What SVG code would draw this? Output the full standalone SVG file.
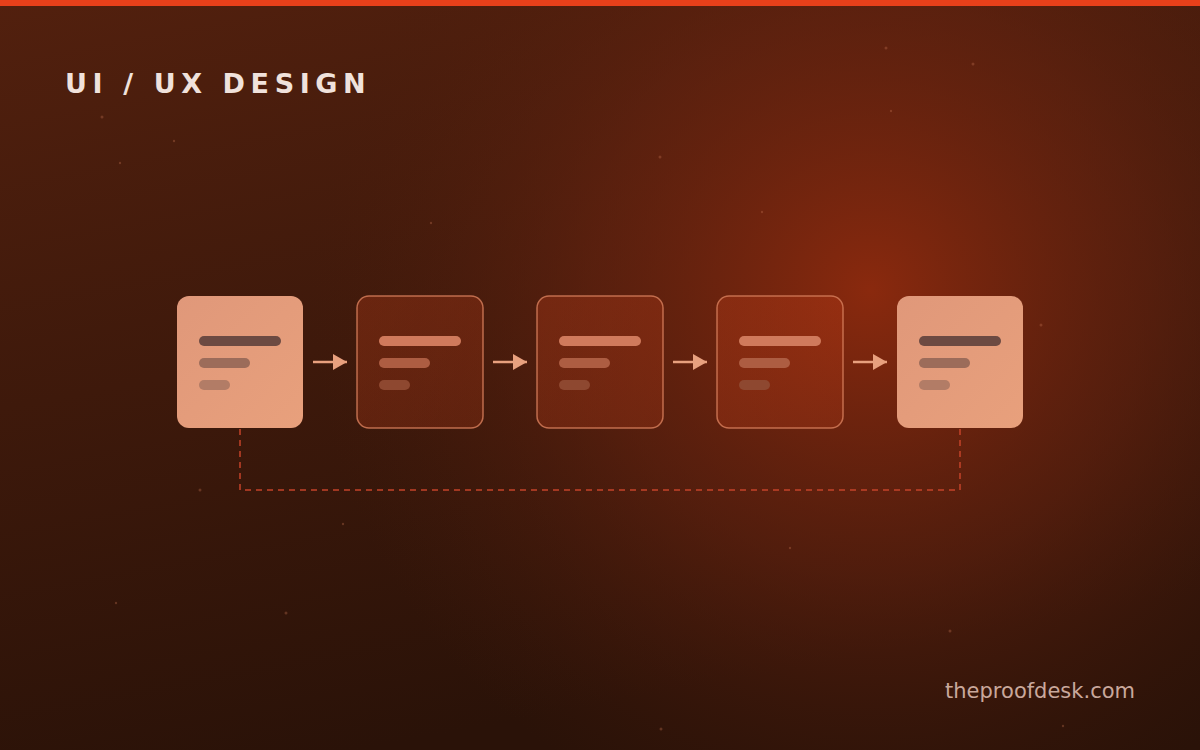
<svg xmlns="http://www.w3.org/2000/svg" width="1200" height="750" viewBox="0 0 1200 750">
<defs>
<linearGradient id="bg" x1="0" y1="0" x2="0.3" y2="1">
<stop offset="0" stop-color="#52200e"/>
<stop offset="1" stop-color="#2a1208"/>
</linearGradient>
<radialGradient id="glow" cx="870" cy="290" r="560" gradientUnits="userSpaceOnUse">
<stop offset="0" stop-color="#8e2a0e" stop-opacity="0.95"/>
<stop offset="0.5" stop-color="#6c2410" stop-opacity="0.55"/>
<stop offset="1" stop-color="#4a1c0c" stop-opacity="0"/>
</radialGradient>
<linearGradient id="dark" x1="0" y1="0" x2="1" y2="1">
<stop offset="0" stop-color="#c8401a" stop-opacity="0.3"/>
<stop offset="1" stop-color="#c8401a" stop-opacity="0.22"/>
</linearGradient>
<linearGradient id="lt" x1="0" y1="0" x2="1" y2="1">
<stop offset="0" stop-color="#e0987a"/>
<stop offset="1" stop-color="#e8a07c"/>
</linearGradient>
<marker id="ah" markerWidth="14" markerHeight="16" refX="14" refY="8" orient="auto" markerUnits="userSpaceOnUse">
<path d="M0,0 L14,8 L0,16 Z" fill="#e8a07e"/>
</marker>
<style>
.light{fill:url(#lt);}
.dk{fill:url(#dark);stroke:#d27a58;stroke-opacity:0.85;stroke-width:1.5;}
.lb1{fill:#6c4a42;}.lb2{fill:#9c6c5a;}.lb3{fill:#b27c66;}
.db1{fill:#d07a5c;}.db2{fill:#ad5d42;}.db3{fill:#8e4830;}
.arr{stroke:#e8a07e;stroke-width:2.5;fill:none;}
.dash{stroke:#c4432a;stroke-width:1.5;fill:none;stroke-dasharray:6 5;}
.dot{fill:#c07050;opacity:0.35;}
</style>
</defs>
<rect width="1200" height="750" fill="url(#bg)"/>
<rect width="1200" height="750" fill="url(#glow)"/>
<rect width="1200" height="6" fill="#e8401a"/>
<g id="particles">
<circle class="dot" cx="102" cy="117" r="1.5"/><circle class="dot" cx="174" cy="141" r="1.2"/>
<circle class="dot" cx="886" cy="48" r="1.5"/><circle class="dot" cx="973" cy="64" r="1.5"/>
<circle class="dot" cx="660" cy="157" r="1.5"/><circle class="dot" cx="891" cy="111" r="1.2"/>
<circle class="dot" cx="762" cy="212" r="1.2"/><circle class="dot" cx="431" cy="223" r="1.2"/>
<circle class="dot" cx="1041" cy="325" r="1.5"/><circle class="dot" cx="200" cy="490" r="1.5"/>
<circle class="dot" cx="286" cy="613" r="1.5"/><circle class="dot" cx="116" cy="603" r="1.2"/>
<circle class="dot" cx="950" cy="631" r="1.5"/><circle class="dot" cx="661" cy="729" r="1.5"/>
<circle class="dot" cx="790" cy="548" r="1.2"/><circle class="dot" cx="343" cy="524" r="1.2"/>
<circle class="dot" cx="120" cy="163" r="1.2"/><circle class="dot" cx="1063" cy="726" r="1.2"/>
</g>
<text x="65" y="93" font-family="DejaVu Sans, sans-serif" font-weight="bold" font-size="27" letter-spacing="5.6" fill="#f0e2dc">UI / UX DESIGN</text>
<g id="connectors">
<line class="arr" x1="313" y1="362" x2="347" y2="362" marker-end="url(#ah)"/>
<line class="arr" x1="493" y1="362" x2="527" y2="362" marker-end="url(#ah)"/>
<line class="arr" x1="673" y1="362" x2="707" y2="362" marker-end="url(#ah)"/>
<line class="arr" x1="853" y1="362" x2="887" y2="362" marker-end="url(#ah)"/>
<path class="dash" d="M240,429 V490 H960 V429"/>
</g>
<g id="node1">
<rect class="light" x="177" y="296" width="126" height="132" rx="12"/>
<rect class="lb1" x="199" y="336" width="82" height="10" rx="5"/>
<rect class="lb2" x="199" y="358" width="51" height="10" rx="5"/>
<rect class="lb3" x="199" y="380" width="31" height="10" rx="5"/>
</g>
<g id="node2">
<rect class="dk" x="357" y="296" width="126" height="132" rx="12"/>
<rect class="db1" x="379" y="336" width="82" height="10" rx="5"/>
<rect class="db2" x="379" y="358" width="51" height="10" rx="5"/>
<rect class="db3" x="379" y="380" width="31" height="10" rx="5"/>
</g>
<g id="node3">
<rect class="dk" x="537" y="296" width="126" height="132" rx="12"/>
<rect class="db1" x="559" y="336" width="82" height="10" rx="5"/>
<rect class="db2" x="559" y="358" width="51" height="10" rx="5"/>
<rect class="db3" x="559" y="380" width="31" height="10" rx="5"/>
</g>
<g id="node4">
<rect class="dk" x="717" y="296" width="126" height="132" rx="12"/>
<rect class="db1" x="739" y="336" width="82" height="10" rx="5"/>
<rect class="db2" x="739" y="358" width="51" height="10" rx="5"/>
<rect class="db3" x="739" y="380" width="31" height="10" rx="5"/>
</g>
<g id="node5">
<rect class="light" x="897" y="296" width="126" height="132" rx="12"/>
<rect class="lb1" x="919" y="336" width="82" height="10" rx="5"/>
<rect class="lb2" x="919" y="358" width="51" height="10" rx="5"/>
<rect class="lb3" x="919" y="380" width="31" height="10" rx="5"/>
</g>
<text x="1135" y="698" text-anchor="end" font-family="DejaVu Sans, sans-serif" font-size="21" fill="#c9a89c">theproofdesk.com</text>
</svg>
